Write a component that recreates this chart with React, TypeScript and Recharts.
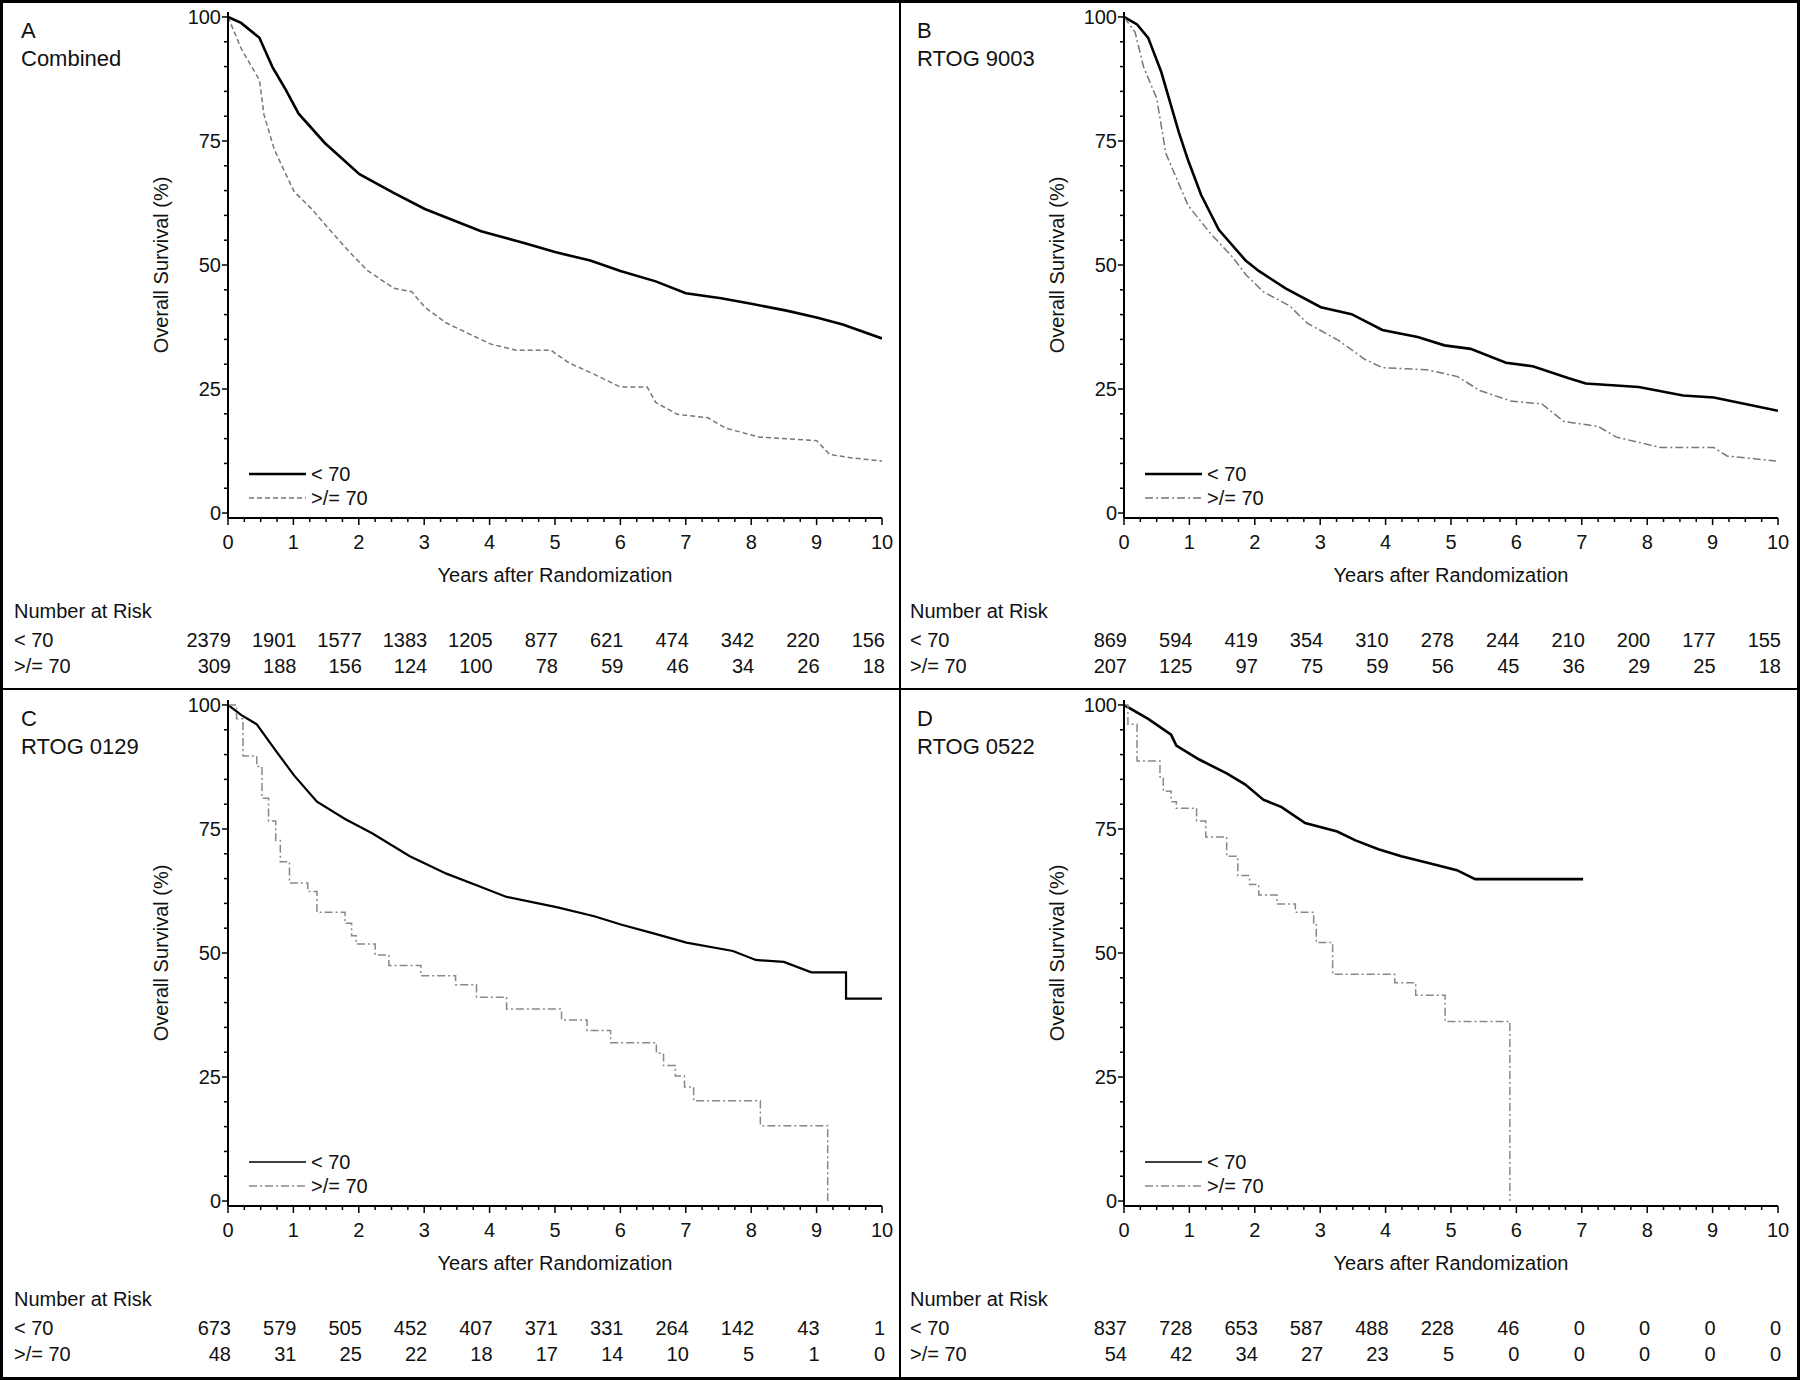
import { LineChart, Line, XAxis, YAxis } from "recharts";

// Years shown under the x axis and the risk table columns
const years = [0, 1, 2, 3, 4, 5, 6, 7, 8, 9, 10];
const yTicks = [0, 5, 10, 15, 20, 25, 30, 35, 40, 45, 50, 55, 60, 65, 70, 75, 80, 85, 90, 95, 100];

// Panel A - Combined
const aYoungT = [0, 0.2, 0.48, 0.68, 0.88, 1.08, 1.48, 2.01, 2.54, 3.01, 3.87, 4.54, 5.0, 5.54, 6.0, 6.54, 7.0, 7.54, 8.0, 8.54, 9.0, 9.4, 10];
const aYoungS = [100, 98.8, 95.8, 89.9, 85.4, 80.5, 74.6, 68.3, 64.5, 61.3, 56.8, 54.4, 52.6, 50.9, 48.8, 46.7, 44.3, 43.3, 42.2, 40.8, 39.4, 38, 35.2];
const aOldT = [0, 0.21, 0.48, 0.55, 0.71, 1.01, 1.28, 1.48, 1.88, 2.14, 2.54, 2.81, 3.01, 3.34, 3.61, 4.01, 4.41, 4.94, 5.21, 5.61, 6.0, 6.41, 6.54, 6.87, 7.34, 7.61, 8.13, 9.0, 9.2, 9.54, 10];
const aOldS = [100, 93.4, 87.3, 80.3, 73.2, 64.8, 61.3, 58.2, 52.3, 48.8, 45.3, 44.6, 41.5, 38.3, 36.6, 34.1, 32.8, 32.8, 30.3, 27.9, 25.4, 25.4, 22.3, 19.9, 19.2, 17.1, 15.3, 14.6, 11.8, 11.1, 10.5];
const aRiskYoung = [2379, 1901, 1577, 1383, 1205, 877, 621, 474, 342, 220, 156];
const aRiskOld = [309, 188, 156, 124, 100, 78, 59, 46, 34, 26, 18];

// Panel B - RTOG 9003
const bYoungT = [0, 0.2, 0.37, 0.57, 0.84, 0.98, 1.18, 1.45, 1.86, 2.06, 2.47, 3.01, 3.48, 3.95, 4.49, 4.9, 5.3, 5.84, 6.25, 6.79, 7.06, 7.87, 8.55, 9.02, 9.5, 10];
const bYoungS = [100, 98.5, 95.8, 88.9, 76.7, 71.1, 64.1, 57.1, 50.9, 48.8, 45.3, 41.5, 40.1, 36.9, 35.5, 33.8, 33.1, 30.3, 29.6, 27.2, 26.1, 25.4, 23.7, 23.3, 22, 20.6];
const bOldT = [0, 0.17, 0.3, 0.5, 0.64, 0.98, 1.32, 1.66, 1.86, 2.13, 2.53, 2.8, 3.28, 3.68, 3.95, 4.63, 5.1, 5.44, 5.91, 6.39, 6.72, 7.26, 7.53, 8.21, 9.02, 9.22, 9.97];
const bOldS = [100, 96.9, 89.9, 83.6, 72.5, 62, 56.4, 51.6, 48.1, 44.6, 41.8, 38.3, 34.8, 31, 29.3, 28.9, 27.5, 24.7, 22.6, 22, 18.5, 17.4, 15.3, 13.2, 13.2, 11.5, 10.5];
const bRiskYoung = [869, 594, 419, 354, 310, 278, 244, 210, 200, 177, 155];
const bRiskOld = [207, 125, 97, 75, 59, 56, 45, 36, 29, 25, 18];

// Panel C - RTOG 0129
const cYoungT = [0, 0.2, 0.44, 0.73, 1.01, 1.36, 1.79, 2.21, 2.78, 3.34, 3.83, 4.26, 5.04, 5.6, 6.02, 6.52, 7.01, 7.72, 8.07, 8.5, 8.92, 9.45, 9.45, 10];
const cYoungS = [100, 98, 96.1, 90.8, 85.8, 80.5, 77, 74.1, 69.5, 66, 63.5, 61.3, 59.2, 57.4, 55.7, 53.9, 52.1, 50.4, 48.6, 48.2, 46.1, 46.1, 40.8, 40.8];
const cOldT = [0, 0.13, 0.23, 0.44, 0.52, 0.62, 0.73, 0.8, 0.94, 1.22, 1.36, 1.79, 1.89, 1.96, 2.25, 2.46, 2.95, 3.48, 3.8, 4.26, 5.1, 5.49, 5.85, 6.55, 6.66, 6.84, 6.98, 7.12, 8.14, 9.17];
const cOldS = [100, 97.2, 89.7, 87.6, 81.2, 76.6, 72.7, 68.4, 64.1, 62.4, 58.2, 56, 53.5, 51.8, 49.6, 47.5, 45.4, 43.6, 41.1, 38.7, 36.5, 34.4, 31.9, 29.8, 27.3, 25.2, 23, 20.2, 15.2, 0];
const cRiskYoung = [673, 579, 505, 452, 407, 371, 331, 264, 142, 43, 1];
const cRiskOld = [48, 31, 25, 22, 18, 17, 14, 10, 5, 1, 0];

// Panel D - RTOG 0522
const dYoungT = [0, 0.37, 0.72, 0.8, 1.15, 1.57, 1.85, 2.13, 2.41, 2.77, 3.26, 3.54, 3.89, 4.24, 4.67, 5.09, 5.37, 7.02];
const dYoungS = [100, 97.2, 94, 91.8, 89, 86.2, 84, 80.9, 79.4, 76.2, 74.5, 72.7, 70.9, 69.5, 68.1, 66.7, 64.9, 64.9];
const dOldT = [0, 0.06, 0.2, 0.55, 0.6, 0.72, 0.8, 1.11, 1.25, 1.57, 1.74, 1.92, 2.06, 2.34, 2.62, 2.9, 2.94, 3.19, 4.14, 4.46, 4.91, 5.9];
const dOldS = [100, 96.1, 88.7, 85.5, 82.6, 80.5, 79.2, 76.6, 73.4, 69.5, 65.6, 63.8, 61.7, 59.9, 58.2, 56, 52.1, 45.7, 44, 41.5, 36.2, 0];
const dRiskYoung = [837, 728, 653, 587, 488, 228, 46, 0, 0, 0, 0];
const dRiskOld = [54, 42, 34, 27, 23, 5, 0, 0, 0, 0, 0];

const FONT = '"Liberation Sans", Arial, Helvetica, sans-serif';
const TXT = "#111";
const PANEL_W = 898;
const PANEL_H = 686;
const PLOT_LEFT = 226;
const PLOT_TOP = 10;
const PLOT_BOTTOM = 516;

// minor ticks every quarter year
const xTicks = Array.from({ length: 41 }, (_, i) => i / 4);

const toPoints = (t: number[], s: number[]) => t.map((x, i) => ({ t: x, s: s[i] }));

const makeXTick = (riskYoung: number[], riskOld: number[]) => (props: any) => {
  const { x, y, payload } = props;
  const v = payload.value;
  if (!Number.isInteger(v)) {
    return <line x1={x} x2={x} y1={y} y2={y + 4} stroke="#000" strokeWidth={1.5} />;
  }
  const i = years.indexOf(v);
  return (
    <g>
      <line x1={x} x2={x} y1={y} y2={y + 7} stroke="#000" strokeWidth={1.5} />
      <text x={x} y={y + 24} textAnchor="middle" dominantBaseline="central" fontSize={20} fill={TXT}>
        {v}
      </text>
      {v === 5 && (
        <text x={x} y={y + 57} textAnchor="middle" dominantBaseline="central" fontSize={20} fill={TXT}>
          Years after Randomization
        </text>
      )}
      <text x={x + 3} y={y + 122} textAnchor="end" dominantBaseline="central" fontSize={20} fill={TXT}>
        {riskYoung[i]}
      </text>
      <text x={x + 3} y={y + 148} textAnchor="end" dominantBaseline="central" fontSize={20} fill={TXT}>
        {riskOld[i]}
      </text>
    </g>
  );
};

const YTick = (props: any) => {
  const { x, y, payload } = props;
  const v = payload.value;
  const major = v % 25 === 0;
  return (
    <g>
      <line x1={x - (major ? 6 : 4)} x2={x} y1={y} y2={y} stroke="#000" strokeWidth={1.5} />
      {major && (
        <text x={x - 7} y={y} textAnchor="end" dominantBaseline="central" fontSize={20} fill={TXT}>
          {v}
        </text>
      )}
      {v === 50 && (
        <text
          transform={`translate(${x - 67},${y}) rotate(-90)`}
          textAnchor="middle"
          dominantBaseline="central"
          fontSize={20}
          fill={TXT}
        >
          Overall Survival (%)
        </text>
      )}
    </g>
  );
};

interface PanelProps {
  left: number;
  top: number;
  letter: string;
  title: string;
  young: { t: number; s: number }[];
  old: { t: number; s: number }[];
  riskYoung: number[];
  riskOld: number[];
  youngWidth: number;
  legendWidth: number;
  oldDash: string;
  oldColor: string;
  oldStep: boolean;
}

const Panel = ({ left, top, letter, title, young, old, riskYoung, riskOld, youngWidth, legendWidth, oldDash, oldColor, oldStep }: PanelProps) => {
  const lx = PLOT_LEFT + 21;
  return (
    <div style={{ position: "absolute", left, top, width: PANEL_W, height: PANEL_H }}>
      <LineChart width={PANEL_W} height={PANEL_H} margin={{ top: PLOT_TOP, right: 18, bottom: 0, left: 0 }}>
        <XAxis
          dataKey="t"
          type="number"
          domain={[0, 10]}
          ticks={xTicks}
          interval={0}
          height={PANEL_H - PLOT_BOTTOM}
          tickSize={0}
          tickMargin={0}
          tickLine={false}
          axisLine={{ stroke: "#000", strokeWidth: 2 }}
          tick={makeXTick(riskYoung, riskOld)}
          allowDataOverflow
        />
        <XAxis xAxisId="top" orientation="top" type="number" domain={[0, 10]} height={0} tick={false} tickLine={false} axisLine={{ stroke: "#000", strokeWidth: 2 }} />
        <YAxis
          type="number"
          domain={[-1, 101]}
          ticks={yTicks}
          interval={0}
          width={PLOT_LEFT}
          tickSize={0}
          tickMargin={0}
          tickLine={false}
          axisLine={{ stroke: "#000", strokeWidth: 2 }}
          tick={<YTick />}
          allowDataOverflow
        />
        <YAxis yAxisId="right" orientation="right" type="number" domain={[-1, 101]} width={0} tick={false} tickLine={false} axisLine={{ stroke: "#000", strokeWidth: 2 }} />
        <Line
          data={young}
          dataKey="s"
          type="linear"
          stroke="#000"
          strokeWidth={youngWidth}
          dot={false}
          activeDot={false}
          isAnimationActive={false}
        />
        <Line
          data={old}
          dataKey="s"
          type={oldStep ? "stepAfter" : "linear"}
          stroke={oldColor}
          strokeWidth={1.5}
          strokeDasharray={oldDash}
          dot={false}
          activeDot={false}
          isAnimationActive={false}
        />
      </LineChart>
      <svg width={PANEL_W} height={PANEL_H} style={{ position: "absolute", left: 0, top: 0, pointerEvents: "none" }}>
        <text x={19} y={28} dominantBaseline="central" fontSize={22} fill={TXT}>{letter}</text>
        <text x={19} y={56} dominantBaseline="central" fontSize={22} fill={TXT}>{title}</text>
        <line x1={lx} x2={lx + 57} y1={472} y2={472} stroke="#000" strokeWidth={legendWidth} />
        <text x={lx + 62} y={472} dominantBaseline="central" fontSize={20} fill={TXT}>{"< 70"}</text>
        <line x1={lx} x2={lx + 57} y1={496} y2={496} stroke={oldColor} strokeWidth={1.5} strokeDasharray={oldDash} />
        <text x={lx + 62} y={496} dominantBaseline="central" fontSize={20} fill={TXT}>{">/= 70"}</text>
        <text x={12} y={PLOT_BOTTOM + 93} dominantBaseline="central" fontSize={20} fill={TXT}>Number at Risk</text>
        <text x={12} y={PLOT_BOTTOM + 122} dominantBaseline="central" fontSize={20} fill={TXT}>{"< 70"}</text>
        <text x={12} y={PLOT_BOTTOM + 148} dominantBaseline="central" fontSize={20} fill={TXT}>{">/= 70"}</text>
      </svg>
    </div>
  );
};

export default function App() {
  return (
    <div style={{ position: "absolute", left: 0, top: 0, width: 1800, height: 1380, background: "#fff", fontFamily: FONT }}>
      <Panel left={2} top={2} letter="A" title="Combined" young={toPoints(aYoungT, aYoungS)} old={toPoints(aOldT, aOldS)}
        riskYoung={aRiskYoung} riskOld={aRiskOld} youngWidth={2.6} legendWidth={2.6} oldDash="5 3" oldColor="#777" oldStep={false} />
      <Panel left={898} top={2} letter="B" title="RTOG 9003" young={toPoints(bYoungT, bYoungS)} old={toPoints(bOldT, bOldS)}
        riskYoung={bRiskYoung} riskOld={bRiskOld} youngWidth={2.6} legendWidth={2.6} oldDash="8 3 2 3" oldColor="#777" oldStep={false} />
      <Panel left={2} top={690} letter="C" title="RTOG 0129" young={toPoints(cYoungT, cYoungS)} old={toPoints(cOldT, cOldS)}
        riskYoung={cRiskYoung} riskOld={cRiskOld} youngWidth={2.2} legendWidth={1.3} oldDash="8 3 2 3" oldColor="#888" oldStep={true} />
      <Panel left={898} top={690} letter="D" title="RTOG 0522" young={toPoints(dYoungT, dYoungS)} old={toPoints(dOldT, dOldS)}
        riskYoung={dRiskYoung} riskOld={dRiskOld} youngWidth={2.6} legendWidth={1.3} oldDash="8 3 2 3" oldColor="#888" oldStep={true} />
      <div style={{ position: "absolute", left: 0, top: 0, width: 1800, height: 1380, boxSizing: "border-box", border: "3px solid #000", pointerEvents: "none" }} />
      <div style={{ position: "absolute", left: 899, top: 0, width: 2, height: 1380, background: "#000" }} />
      <div style={{ position: "absolute", left: 0, top: 688, width: 1800, height: 2, background: "#000" }} />
    </div>
  );
}
